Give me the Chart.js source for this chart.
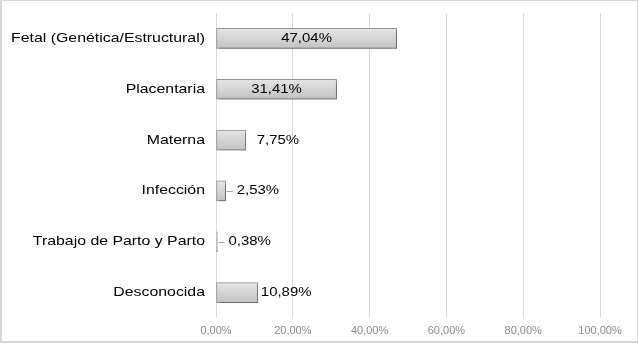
<!DOCTYPE html>
<html>
<head>
<meta charset="utf-8">
<script src="https://cdn.jsdelivr.net/npm/chart.js@4"></script>
<style>
  html, body { margin: 0; padding: 0; background: #fff; }
  #wrap { position: relative; width: 639px; height: 344px; }
  #frame { position: absolute; left: 0; top: 0; width: 635px; height: 340px;
           border: 1px solid #d6d6d6; border-left-width: 2px; border-bottom-width: 2px; pointer-events: none; }
</style>
</head>
<body>
<div id="wrap">
  <canvas id="causas" width="639" height="344"></canvas>
  <div id="frame"></div>
</div>
<script>
const categorias = [
  "Fetal (Genética/Estructural)",
  "Placentaria",
  "Materna",
  "Infección",
  "Trabajo de Parto y Parto",
  "Desconocida"
];
const porcentajes = [47.04, 31.41, 7.75, 2.53, 0.38, 10.89];
const ticksX = [0, 20, 40, 60, 80, 100];

const FUENTE = "'Liberation Sans', Arial, sans-serif";
const GROSOR = 20;

function fmt(v) {
  return v.toFixed(2).replace(".", ",") + "%";
}

// texto algo ensanchado, como en la imagen original
function textoAncho(ctx, txt, x, y, align, sx) {
  ctx.save();
  ctx.translate(x, y);
  ctx.scale(sx, 1);
  ctx.textAlign = align;
  ctx.fillText(txt, 0, 0);
  ctx.restore();
}

// degradado vertical de cada barra
function relleno(context) {
  const chart = context.chart;
  const y = chart.scales.y;
  if (!y || context.dataIndex === undefined) return "#d4d4d4";
  const yc = y.getPixelForValue(context.dataIndex);
  if (!isFinite(yc)) return "#d4d4d4";
  const g = chart.ctx.createLinearGradient(0, yc - GROSOR / 2, 0, yc + GROSOR / 2);
  g.addColorStop(0, "#e6e6e6");
  g.addColorStop(1, "#c2c2c2");
  return g;
}

// nombres de categorías a la izquierda
const categoriasEje = {
  id: "categoriasEje",
  afterDraw(chart) {
    const ctx = chart.ctx;
    const y = chart.scales.y;
    ctx.save();
    ctx.font = "13px " + FUENTE;
    ctx.fillStyle = "#000";
    ctx.textBaseline = "middle";
    categorias.forEach((c, i) => {
      textoAncho(ctx, c, 205, y.getPixelForTick(i), "right", 1.22);
    });
    ctx.restore();
  }
};

// etiquetas de datos: dentro de la barra si es ancha, fuera si no
const etiquetas = {
  id: "etiquetas",
  afterDatasetsDraw(chart) {
    const ctx = chart.ctx;
    const meta = chart.getDatasetMeta(0);
    ctx.save();
    ctx.font = "13px " + FUENTE;
    ctx.fillStyle = "#000";
    ctx.textBaseline = "middle";
    meta.data.forEach((bar, i) => {
      const v = porcentajes[i];
      const txt = fmt(v);
      if (v > 25) {
        textoAncho(ctx, txt, (bar.base + bar.x) / 2, bar.y, "center", 1.15);
      } else if (v < 5) {
        ctx.strokeStyle = "#a6a6a6";
        ctx.lineWidth = 1;
        ctx.beginPath();
        ctx.moveTo(bar.x + 1, Math.round(bar.y) + 0.5);
        ctx.lineTo(bar.x + 7, Math.round(bar.y) + 0.5);
        ctx.stroke();
        textoAncho(ctx, txt, bar.x + 11, bar.y, "left", 1.15);
      } else {
        textoAncho(ctx, txt, bar.x + (v > 10 ? 3 : 11), bar.y, "left", 1.15);
      }
    });
    ctx.restore();
  }
};

// sombra suave de las barras
const sombra = {
  id: "sombra",
  beforeDatasetsDraw(chart) {
    const ctx = chart.ctx;
    ctx.save();
    ctx.shadowColor = "rgba(0,0,0,0.35)";
    ctx.shadowOffsetX = 2;
    ctx.shadowOffsetY = 2;
    ctx.shadowBlur = 3;
  },
  afterDatasetsDraw(chart) {
    chart.ctx.restore();
  }
};

new Chart(document.getElementById("causas"), {
  type: "bar",
  data: {
    labels: categorias,
    datasets: [{
      data: porcentajes,
      backgroundColor: relleno,
      borderColor: "#959595",
      borderWidth: 1,
      borderSkipped: false,
      barThickness: GROSOR
    }]
  },
  options: {
    indexAxis: "y",
    responsive: false,
    animation: false,
    layout: { padding: { top: 13, right: 39, left: 0, bottom: 0 } },
    plugins: {
      legend: { display: false },
      tooltip: { enabled: false }
    },
    scales: {
      x: {
        min: 0,
        max: 100,
        afterBuildTicks: (axis) => { axis.ticks = ticksX.map(v => ({ value: v })); },
        afterFit: (axis) => { axis.height = 26; },
        grid: { color: "#d9d9d9", drawTicks: false },
        border: { display: false },
        ticks: {
          padding: 6,
          color: "#8c8c8c",
          font: { family: FUENTE, size: 11 },
          callback: (v) => fmt(v)
        }
      },
      y: {
        afterFit: (axis) => { axis.width = 216; axis.paddingTop = 0; axis.paddingBottom = 0; },
        grid: { display: false, drawTicks: false },
        border: { display: false },
        ticks: { display: false }
      }
    }
  },
  plugins: [sombra, etiquetas, categoriasEje]
});
</script>
</body>
</html>
